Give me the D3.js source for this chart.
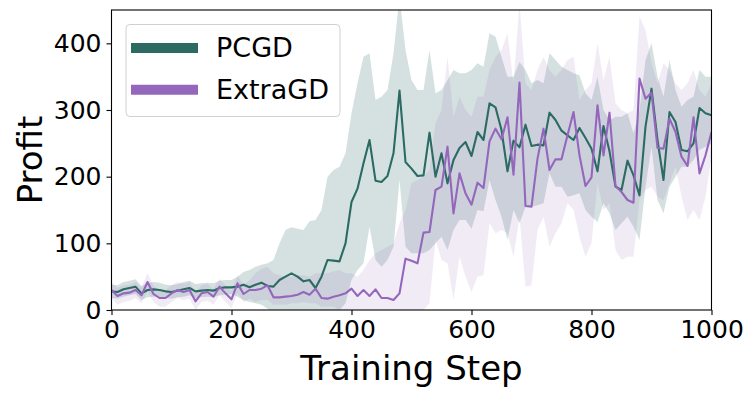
<!DOCTYPE html>
<html>
<head>
<meta charset="utf-8">
<script src="https://cdn.jsdelivr.net/npm/d3@7"></script>
<style>
  html, body { margin: 0; padding: 0; background: #fff; }
  svg { display: block; font-family: "DejaVu Sans", sans-serif; }
</style>
</head>
<body>
<svg id="chart" width="756" height="396"></svg>
<script>
const steps = [0,10,20,30,40,50,60,70,80,90,100,110,120,130,140,150,160,170,180,190,200,
  210,220,230,240,250,260,270,280,290,300,310,320,330,340,350,360,370,380,390,400,
  410,420,430,440,450,460,470,480,490,500,510,520,530,540,550,560,570,580,590,600,
  610,620,630,640,650,660,670,680,690,700,710,720,730,740,750,760,770,780,790,800,
  810,820,830,840,850,860,870,880,890,900,910,920,930,940,950,960,970,980,990,1000];

const pcgdMean = [28,27,31,33,35,25,30,31,30,28,27,29,31,33,28,29,30,29,33,34,34,
  35,38,34,38,41,36,35,45,50,55,
  50,43,45,33,50,75,74,73,100,162,
  182,220,255,194,192,201,235,329,222,212,
  201,202,266,200,235,190,225,243,252,231,
  267,255,310,304,270,208,254,244,278,246,
  248,247,296,285,269,262,255,273,258,242,
  208,276,238,185,180,224,202,172,275,332,
  255,195,297,282,240,238,250,303,295,292];
const pcgdLow = [18,17,20,22,24,15,19,20,20,18,17,19,20,22,18,19,20,19,22,23,24,
  20,15,12,10,8,2,-3,-5,-5,-5,
  -5,-5,-5,-5,-5,-5,-5,0,10,45,
  60,70,125,75,65,75,95,195,95,85,
  85,85,90,100,110,90,120,135,135,122,
  150,148,195,165,140,105,150,130,155,155,
  157,160,205,185,185,170,172,175,150,140,
  132,160,145,120,130,140,125,105,185,245,
  165,145,185,200,215,215,225,240,245,250];
const pcgdHigh = [38,37,42,44,46,36,41,42,41,38,37,39,42,44,39,40,41,40,44,45,45,
  50,57,60,65,68,70,75,100,120,124,
  122,120,133,135,150,200,210,215,235,295,
  340,380,385,315,320,330,385,470,390,345,
  330,330,390,325,330,345,360,355,355,360,
  370,365,415,410,380,350,350,372,360,340,
  345,340,385,375,365,360,355,352,325,315,
  350,300,285,290,290,295,265,300,375,400,
  350,320,375,330,305,315,320,360,350,350];

const extraMean = [30,21,25,26,30,22,42,24,18,18,25,30,27,30,13,25,27,20,35,25,16,
  40,24,30,30,32,37,19,19,20,21,
  23,27,23,32,18,17,20,22,25,32,
  21,30,21,31,18,18,15,25,77,74,
  70,116,117,180,185,245,145,205,175,158,
  191,183,253,272,256,289,203,341,156,155,
  227,272,210,226,226,262,297,232,186,199,
  307,232,296,186,177,165,161,347,317,326,
  243,242,287,267,230,216,289,205,232,267];
const extraLow = [18,8,12,14,18,10,28,12,5,5,12,18,15,17,0,12,14,8,22,12,3,
  25,12,17,12,15,15,8,8,8,10,
  10,12,10,10,5,5,5,0,0,-10,
  -10,-10,-10,-10,-10,-10,-10,-10,-10,-10,
  -10,0,10,105,75,70,15,80,50,27,
  50,52,130,115,120,115,80,140,35,37,
  120,140,95,115,130,160,150,110,80,100,
  190,150,160,90,75,80,80,165,180,185,
  170,165,190,215,170,135,150,135,170,230];
const extraHigh = [42,33,37,38,42,34,55,36,30,30,37,42,39,42,26,37,39,32,47,37,28,
  52,38,45,55,62,65,55,52,50,50,
  52,52,50,55,55,55,58,60,55,55,
  50,60,75,85,90,95,100,130,150,190,
  195,200,210,280,300,380,290,320,300,290,
  320,320,360,380,390,415,340,460,340,330,
  360,380,360,350,360,375,380,315,330,340,
  400,345,380,310,300,295,300,440,420,370,
  340,370,360,340,330,340,360,330,320,340];

const xTicks = [0,200,400,600,800,1000];
const yTicks = [0,100,200,300,400];
const seriesNames = ["PCGD","ExtraGD"];
const seriesColors = ["#2b6b64","#9467bd"];

const svg = d3.select("#chart");
const L = 111.5, R = 711.5, T = 10, B = 310;
const x = d3.scaleLinear().domain([0,1000]).range([L,R]);
const y = d3.scaleLinear().domain([0,450]).range([B,T]);

svg.append("defs").append("clipPath").attr("id","clip")
  .append("rect").attr("x",L).attr("y",T).attr("width",R-L).attr("height",B-T);

const plot = svg.append("g").attr("clip-path","url(#clip)");

const series = [
  {mean: pcgdMean, low: pcgdLow, high: pcgdHigh, color: seriesColors[0], fillOp: 0.2},
  {mean: extraMean, low: extraLow, high: extraHigh, color: seriesColors[1], fillOp: 0.13}
];

const area = d3.area().x((d,i)=>x(steps[i])).y0(d=>y(d[0])).y1(d=>y(d[1]));
const line = d3.line().x((d,i)=>x(steps[i])).y(d=>y(d));

series.forEach(s => {
  const band = s.low.map((v,i)=>[v, s.high[i]]);
  plot.append("path").attr("d", area(band)).attr("fill", s.color)
    .attr("fill-opacity", s.fillOp).attr("stroke","none");
});
series.forEach(s => {
  plot.append("path").attr("d", line(s.mean)).attr("fill","none")
    .attr("stroke", s.color).attr("stroke-width", 2.1).attr("stroke-linejoin","round");
});

// axes
const xAxis = svg.append("g").attr("transform",`translate(0,${B})`)
  .call(d3.axisBottom(x).tickValues(xTicks).tickSize(5).tickPadding(5).tickFormat(d3.format("d")));
const yAxis = svg.append("g").attr("transform",`translate(${L},0)`)
  .call(d3.axisLeft(y).tickValues(yTicks).tickSize(5).tickPadding(5).tickFormat(d3.format("d")));
[xAxis,yAxis].forEach(a=>{
  a.select(".domain").remove();
  a.selectAll("line").attr("stroke","#000").attr("stroke-width",1.1);
  a.selectAll("text").attr("fill","#000").style("font-size","25px").style("font-family","DejaVu Sans");
});

svg.append("rect").attr("x",L).attr("y",T).attr("width",R-L).attr("height",B-T)
  .attr("fill","none").attr("stroke","#000").attr("stroke-width",1.1);

// labels
svg.append("text").attr("x",(L+R)/2).attr("y",380).attr("text-anchor","middle")
  .style("font-size","34px").attr("fill","#000").text("Training Step");
svg.append("text").attr("transform",`translate(42,${(T+B)/2}) rotate(-90)`).attr("text-anchor","middle")
  .style("font-size","34px").attr("fill","#000").text("Profit");

// legend
const lg = svg.append("g");
lg.append("rect").attr("x",126).attr("y",24.5).attr("width",214).attr("height",92)
  .attr("rx",4).attr("fill","#fff").attr("fill-opacity",0.8).attr("stroke","#d0d0d0").attr("stroke-width",1);
seriesNames.forEach((n,i)=>{
  const cy = 48 + i*41.7;
  lg.append("line").attr("x1",131).attr("x2",198).attr("y1",cy).attr("y2",cy)
    .attr("stroke",seriesColors[i]).attr("stroke-width",10);
  lg.append("text").attr("x",216).attr("y",cy+9).style("font-size","27px").attr("fill","#000").text(n);
});
</script>
</body>
</html>
